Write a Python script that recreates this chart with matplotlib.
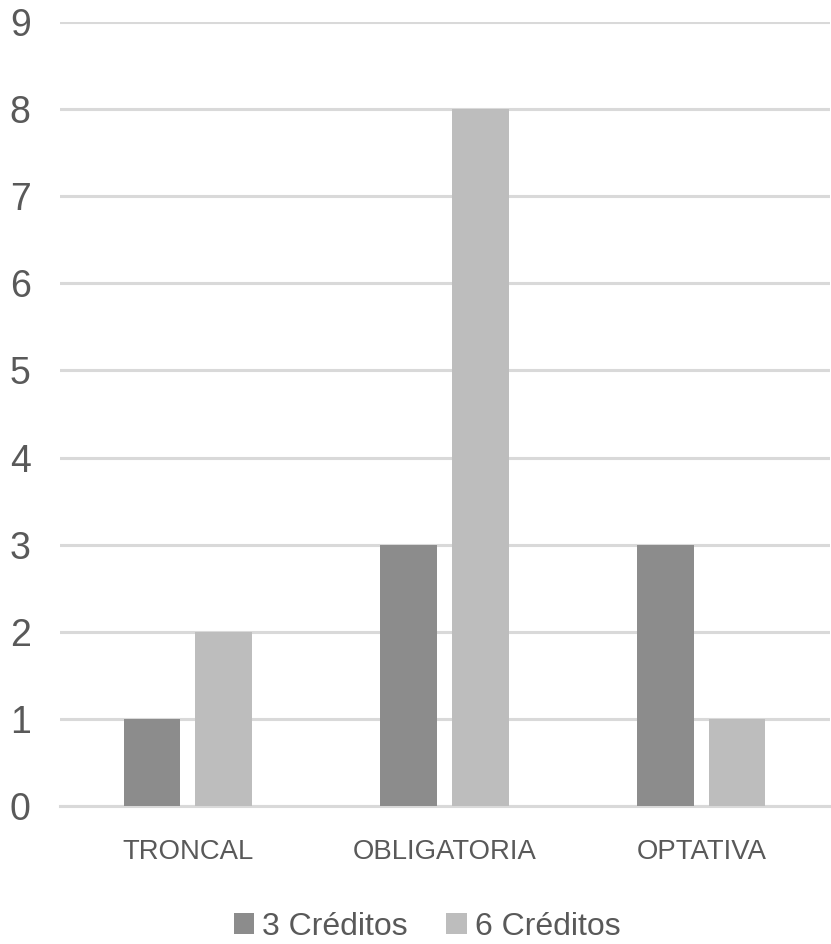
import numpy as np
from matplotlib import pyplot as plt

categorias = ["TRONCAL", "OBLIGATORIA", "OPTATIVA"]
creditos_3 = [1, 3, 3]
creditos_6 = [2, 8, 1]
series = ["3 Créditos", "6 Créditos"]

plt.rcParams["font.family"] = ["Liberation Sans", "DejaVu Sans"]

txt = "#595959"
fig = plt.figure(figsize=(8.31, 9.44), dpi=100)
ax = fig.add_axes([0.072, 0.1462, 0.927, 0.8305])

x = np.arange(len(categorias))
w = 0.22
ax.bar(x - 0.142, creditos_3, w, color="#8c8c8c", label=series[0], zorder=3)
ax.bar(x + 0.138, creditos_6, w, color="#bdbdbd", label=series[1], zorder=3)

ax.set_xlim(-0.5, 2.5)
ax.set_ylim(0, 9)
ax.set_yticks(range(10))
ax.yaxis.grid(True, color="#d9d9d9", linewidth=2.2, zorder=0)
ax.set_xticks(x)
ax.set_xticklabels(categorias)
for s in ["top", "right", "left"]:
    ax.spines[s].set_visible(False)
ax.spines["bottom"].set_color("#d9d9d9")
ax.spines["bottom"].set_linewidth(2.2)
ax.tick_params(axis="y", length=0, pad=21, labelsize=27, labelcolor=txt)
ax.tick_params(axis="x", length=0, pad=24, labelsize=19.8, labelcolor=txt)

fig.legend(loc="lower center", bbox_to_anchor=(0.514, -0.028), ncol=2, frameon=False,
           fontsize=23, labelcolor=txt, handlelength=0.65, handleheight=0.65,
           handletextpad=0.25, columnspacing=1.2)

fig.savefig("out.png", dpi=100)
